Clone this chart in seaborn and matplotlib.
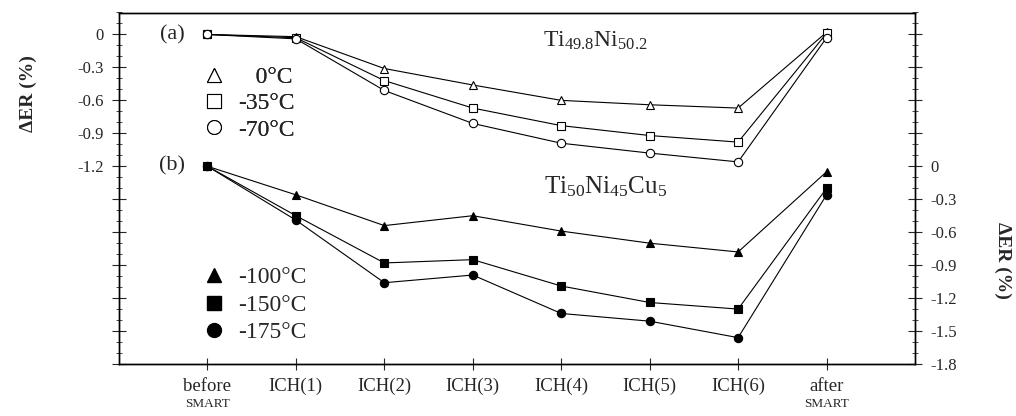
import matplotlib as mpl
import matplotlib.pyplot as plt
import matplotlib.transforms as mtransforms
from matplotlib.lines import Line2D
from matplotlib.ticker import FixedLocator, MultipleLocator
import numpy as np
import seaborn as sns

# Stages along the x axis
stages = ['before', 'ICH(1)', 'ICH(2)', 'ICH(3)', 'ICH(4)', 'ICH(5)', 'ICH(6)', 'after']

# (a) Ti49.8Ni50.2, left axis
a_labels = ['0°C', '-35°C', '-70°C']
a_0 = [0.0, -0.02, -0.31, -0.46, -0.60, -0.64, -0.67, 0.02]
a_35 = [0.0, -0.03, -0.42, -0.67, -0.83, -0.92, -0.98, 0.01]
a_70 = [0.0, -0.04, -0.51, -0.81, -0.99, -1.08, -1.16, -0.03]

# (b) Ti50Ni45Cu5, right axis
b_labels = ['-100°C', '-150°C', '-175°C']
b_100 = [0.0, -0.26, -0.54, -0.45, -0.59, -0.70, -0.78, -0.05]
b_150 = [0.0, -0.45, -0.88, -0.85, -1.09, -1.24, -1.30, -0.20]
b_175 = [0.0, -0.49, -1.06, -0.99, -1.34, -1.41, -1.56, -0.26]

sns.set_style('ticks')
plt.rcParams['font.family'] = ['Liberation Serif', 'DejaVu Serif']
plt.rcParams['mathtext.fontset'] = 'custom'
plt.rcParams['mathtext.rm'] = 'Liberation Serif'
plt.rcParams['mathtext.it'] = 'Liberation Serif:italic'

fig = plt.figure(figsize=(10.16, 4.16), dpi=100)
ax = fig.add_axes([119 / 1016, 1 - 364 / 416, (915 - 119) / 1016, (364 - 12.5) / 416])
ax2 = ax.twinx()

x = np.arange(len(stages))
markers = ['^', 's', 'o']

# Plot (a) series with open markers
for vals, m in zip([a_0, a_35, a_70], markers):
    sns.lineplot(x=x, y=vals, ax=ax, color='black', linewidth=0.8, marker=m,
                 markersize=6, markerfacecolor='white', markeredgecolor='black',
                 markeredgewidth=0.8)

# Plot (b) series with filled markers
for vals, m in zip([b_100, b_150, b_175], markers):
    sns.lineplot(x=x, y=vals, ax=ax2, color='black', linewidth=0.8, marker=m,
                 markersize=6, markerfacecolor='black', markeredgecolor='black',
                 markeredgewidth=0.8)

ax.set_xlim(-1, 8)
ax.set_ylim(-3.0, 0.2)
ax2.set_ylim(-1.8, 1.4)

# Axis ticks
ax.set_xticks(x)
ax.set_xticklabels(stages, fontsize=13.5)
ax.tick_params(axis='x', direction='inout', length=8, width=0.8, pad=6)

left_major = np.round(np.arange(0, -3.01, -0.3), 1)
ax.yaxis.set_major_locator(FixedLocator(left_major))
ax.set_yticklabels(['0' if v == 0 else f'{v:.1f}' if v >= -1.2 else '' for v in left_major])
ax.yaxis.set_minor_locator(MultipleLocator(0.1))
ax.tick_params(axis='y', which='major', direction='inout', length=10, width=0.8,
               labelsize=12, pad=6)
ax.tick_params(axis='y', which='minor', direction='inout', length=5, width=0.6)

right_major = np.round(np.arange(1.2, -1.81, -0.3), 1)
ax2.yaxis.set_major_locator(FixedLocator(right_major))
ax2.set_yticklabels(['0' if v == 0 else f'{v:.1f}' if v < 0 else '' for v in right_major])
ax2.yaxis.set_minor_locator(MultipleLocator(0.1))
ax2.tick_params(axis='y', which='major', direction='inout', length=10, width=0.8,
                labelsize=12, pad=6)
ax2.tick_params(axis='y', which='minor', direction='inout', length=5, width=0.6)

for a in (ax, ax2):
    for s in a.spines.values():
        s.set_linewidth(1.0)
        s.set_color('black')

ax.set_ylabel('ΔER (%)', fontsize=14, fontweight='bold')
ax2.set_ylabel('ΔER (%)', fontsize=14, fontweight='bold', rotation=270)
ax.yaxis.set_label_coords(-0.103, 0.77)
ax2.yaxis.set_label_coords(1.121, 0.295)

# Small "SMART" under first and last tick labels
trans = mtransforms.blended_transform_factory(ax.transData, ax.transAxes)
for xi in (0, len(stages) - 1):
    ax.text(xi, -0.115, 'SMART', transform=trans, ha='center', va='center', fontsize=9.5)

# Panel labels and compositions
ax.text(-0.4, 0.0, '(a)', fontsize=16, ha='center', va='center')
ax.text(-0.4, -1.2, '(b)', fontsize=16, ha='center', va='center')
ax.text(3.79, -0.11, r'Ti$_{49.8}$Ni$_{50.2}$', fontsize=17, ha='left', va='baseline')
ax.text(3.81, -1.45, r'Ti$_{50}$Ni$_{45}$Cu$_{5}$', fontsize=18, ha='left', va='baseline')

# Legends
a_handles = [Line2D([], [], linestyle='none', marker=m, markersize=10, markerfacecolor='white',
                    markeredgecolor='black', markeredgewidth=0.8) for m in markers]
b_handles = [Line2D([], [], linestyle='none', marker=m, markersize=10, markerfacecolor='black',
                    markeredgecolor='black') for m in markers]
leg_a = ax.legend(a_handles, ['   ' + a_labels[0]] + a_labels[1:], loc='upper left',
                  bbox_to_anchor=(0.09, 0.88), frameon=False, fontsize=17,
                  handlelength=1.0, handletextpad=0.5, labelspacing=0.2, borderpad=0)
ax.add_artist(leg_a)
ax2.legend(b_handles, b_labels, loc='upper left', bbox_to_anchor=(0.09, 0.31),
           frameon=False, fontsize=17, handlelength=1.0, handletextpad=0.5,
           labelspacing=0.25, borderpad=0)

fig.savefig('out.png', dpi=100)
